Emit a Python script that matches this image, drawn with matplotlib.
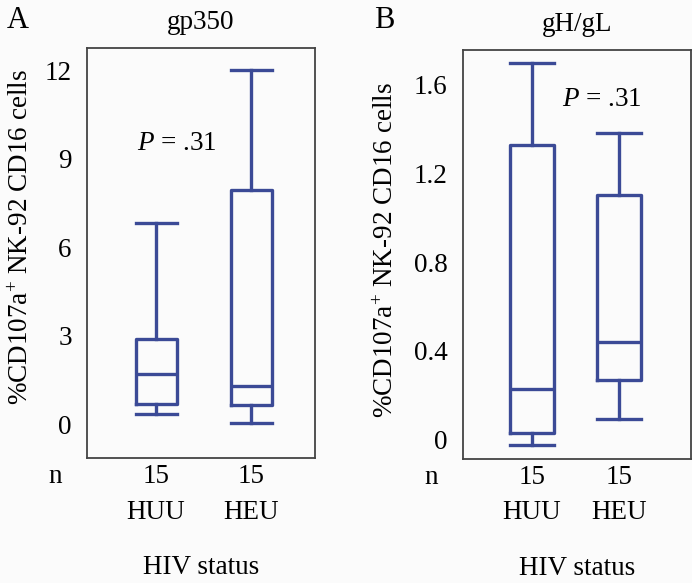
import matplotlib
matplotlib.use("Agg")
import matplotlib.pyplot as plt

# Datos (bigotes, cuartiles, mediana)
grupos = ["HUU", "HEU"]
n_por_grupo = [15, 15]

# Panel A: gp350
gp350_whislo = [0.34, 0.02]
gp350_q1 = [0.68, 0.63]
gp350_med = [1.69, 1.29]
gp350_q3 = [2.87, 7.95]
gp350_whishi = [6.81, 12.0]

# Panel B: gH/gL
gHgL_whislo = [-0.026, 0.092]
gHgL_q1 = [0.029, 0.267]
gHgL_med = [0.226, 0.437]
gHgL_q3 = [1.329, 1.103]
gHgL_whishi = [1.70, 1.383]

p_valor = ".31"

azul = "#3b4a96"
fuente = "Liberation Serif"
plt.rcParams["font.family"] = "serif"
plt.rcParams["font.serif"] = [fuente, "DejaVu Serif"]
plt.rcParams["mathtext.fontset"] = "custom"
plt.rcParams["mathtext.rm"] = fuente
plt.rcParams["mathtext.it"] = fuente + ":italic"
tam = 19.5

fig = plt.figure(figsize=(6.92, 5.83), dpi=100, facecolor="#fbfbfb")


def stats_caja(lo, q1, med, q3, hi):
    cajas = []
    for i in range(len(lo)):
        cajas.append({"whislo": lo[i], "q1": q1[i], "med": med[i],
                      "q3": q3[i], "whishi": hi[i], "fliers": []})
    return cajas


def dibujar_panel(rect, cajas, ancho, xlim, ylim, ticks, tick_labels,
                  titulo, letra, letra_x, p_xy, label_xy):
    ax = fig.add_axes(rect)
    ax.set_facecolor("#fbfbfb")
    estilo = dict(color=azul, linewidth=2.4)
    ax.bxp(cajas, positions=[1, 2], widths=ancho, capwidths=ancho,
           showfliers=False, boxprops=estilo, medianprops=estilo,
           whiskerprops=estilo, capprops=estilo)
    ax.set_xlim(*xlim)
    ax.set_ylim(*ylim)
    ax.set_yticks(ticks)
    ax.set_yticklabels(tick_labels)
    ax.set_xticks([])
    ax.tick_params(axis="y", length=0, pad=11, labelsize=tam)
    for s in ax.spines.values():
        s.set_color("#444444")
        s.set_linewidth(1.3)
    ax.set_ylabel(r"%CD107a$^{+}$ NK-92 CD16 cells", fontsize=tam)
    # la x marca el borde derecho del texto rotado
    ax.yaxis.set_label_coords(*label_xy)
    ax.text(0.5, 1.063, titulo, transform=ax.transAxes, ha="center",
            va="center", fontsize=tam)
    fig.text(letra_x, 1 - 21 / 583, letra, ha="center", va="center",
             fontsize=22)
    ax.text(p_xy[0], p_xy[1], r"$P$ = " + p_valor, transform=ax.transAxes,
            ha="center", va="center", fontsize=tam)
    trans = ax.get_xaxis_transform()
    ax.text(xlim[0] - 0.14 * (xlim[1] - xlim[0]), -0.046, "n",
            transform=trans, ha="center", va="center", fontsize=tam)
    for i, g in enumerate(grupos):
        ax.text(i + 1, -0.046, str(n_por_grupo[i]), transform=trans,
                ha="center", va="center", fontsize=tam)
        ax.text(i + 1, -0.132, g, transform=trans, ha="center",
                va="center", fontsize=tam)
    ax.text(0.5, -0.268, "HIV status", transform=ax.transAxes,
            ha="center", va="center", fontsize=tam)
    return ax


cajas_a = stats_caja(gp350_whislo, gp350_q1, gp350_med, gp350_q3, gp350_whishi)
cajas_b = stats_caja(gHgL_whislo, gHgL_q1, gHgL_med, gHgL_q3, gHgL_whishi)

dibujar_panel([87 / 692, 125 / 583, 228 / 692, 410 / 583], cajas_a, 0.43,
              (0.274, 2.67), (-1.15, 12.75), [0, 3, 6, 9, 12],
              ["0", "3", "6", "9", "12"], "gp350", "A", 17.5 / 692,
              (0.395, 0.768), (-0.232, 0.54))
dibujar_panel([463 / 692, 124 / 583, 228 / 692, 409 / 583], cajas_b, 0.5,
              (0.207, 2.83), (-0.09, 1.758), [0, 0.4, 0.8, 1.2, 1.6],
              ["0", "0.4", "0.8", "1.2", "1.6"], "gH/gL", "B", 384 / 692,
              (0.61, 0.878), (-0.28, 0.51))

fig.savefig("out.png", dpi=100, facecolor=fig.get_facecolor())
